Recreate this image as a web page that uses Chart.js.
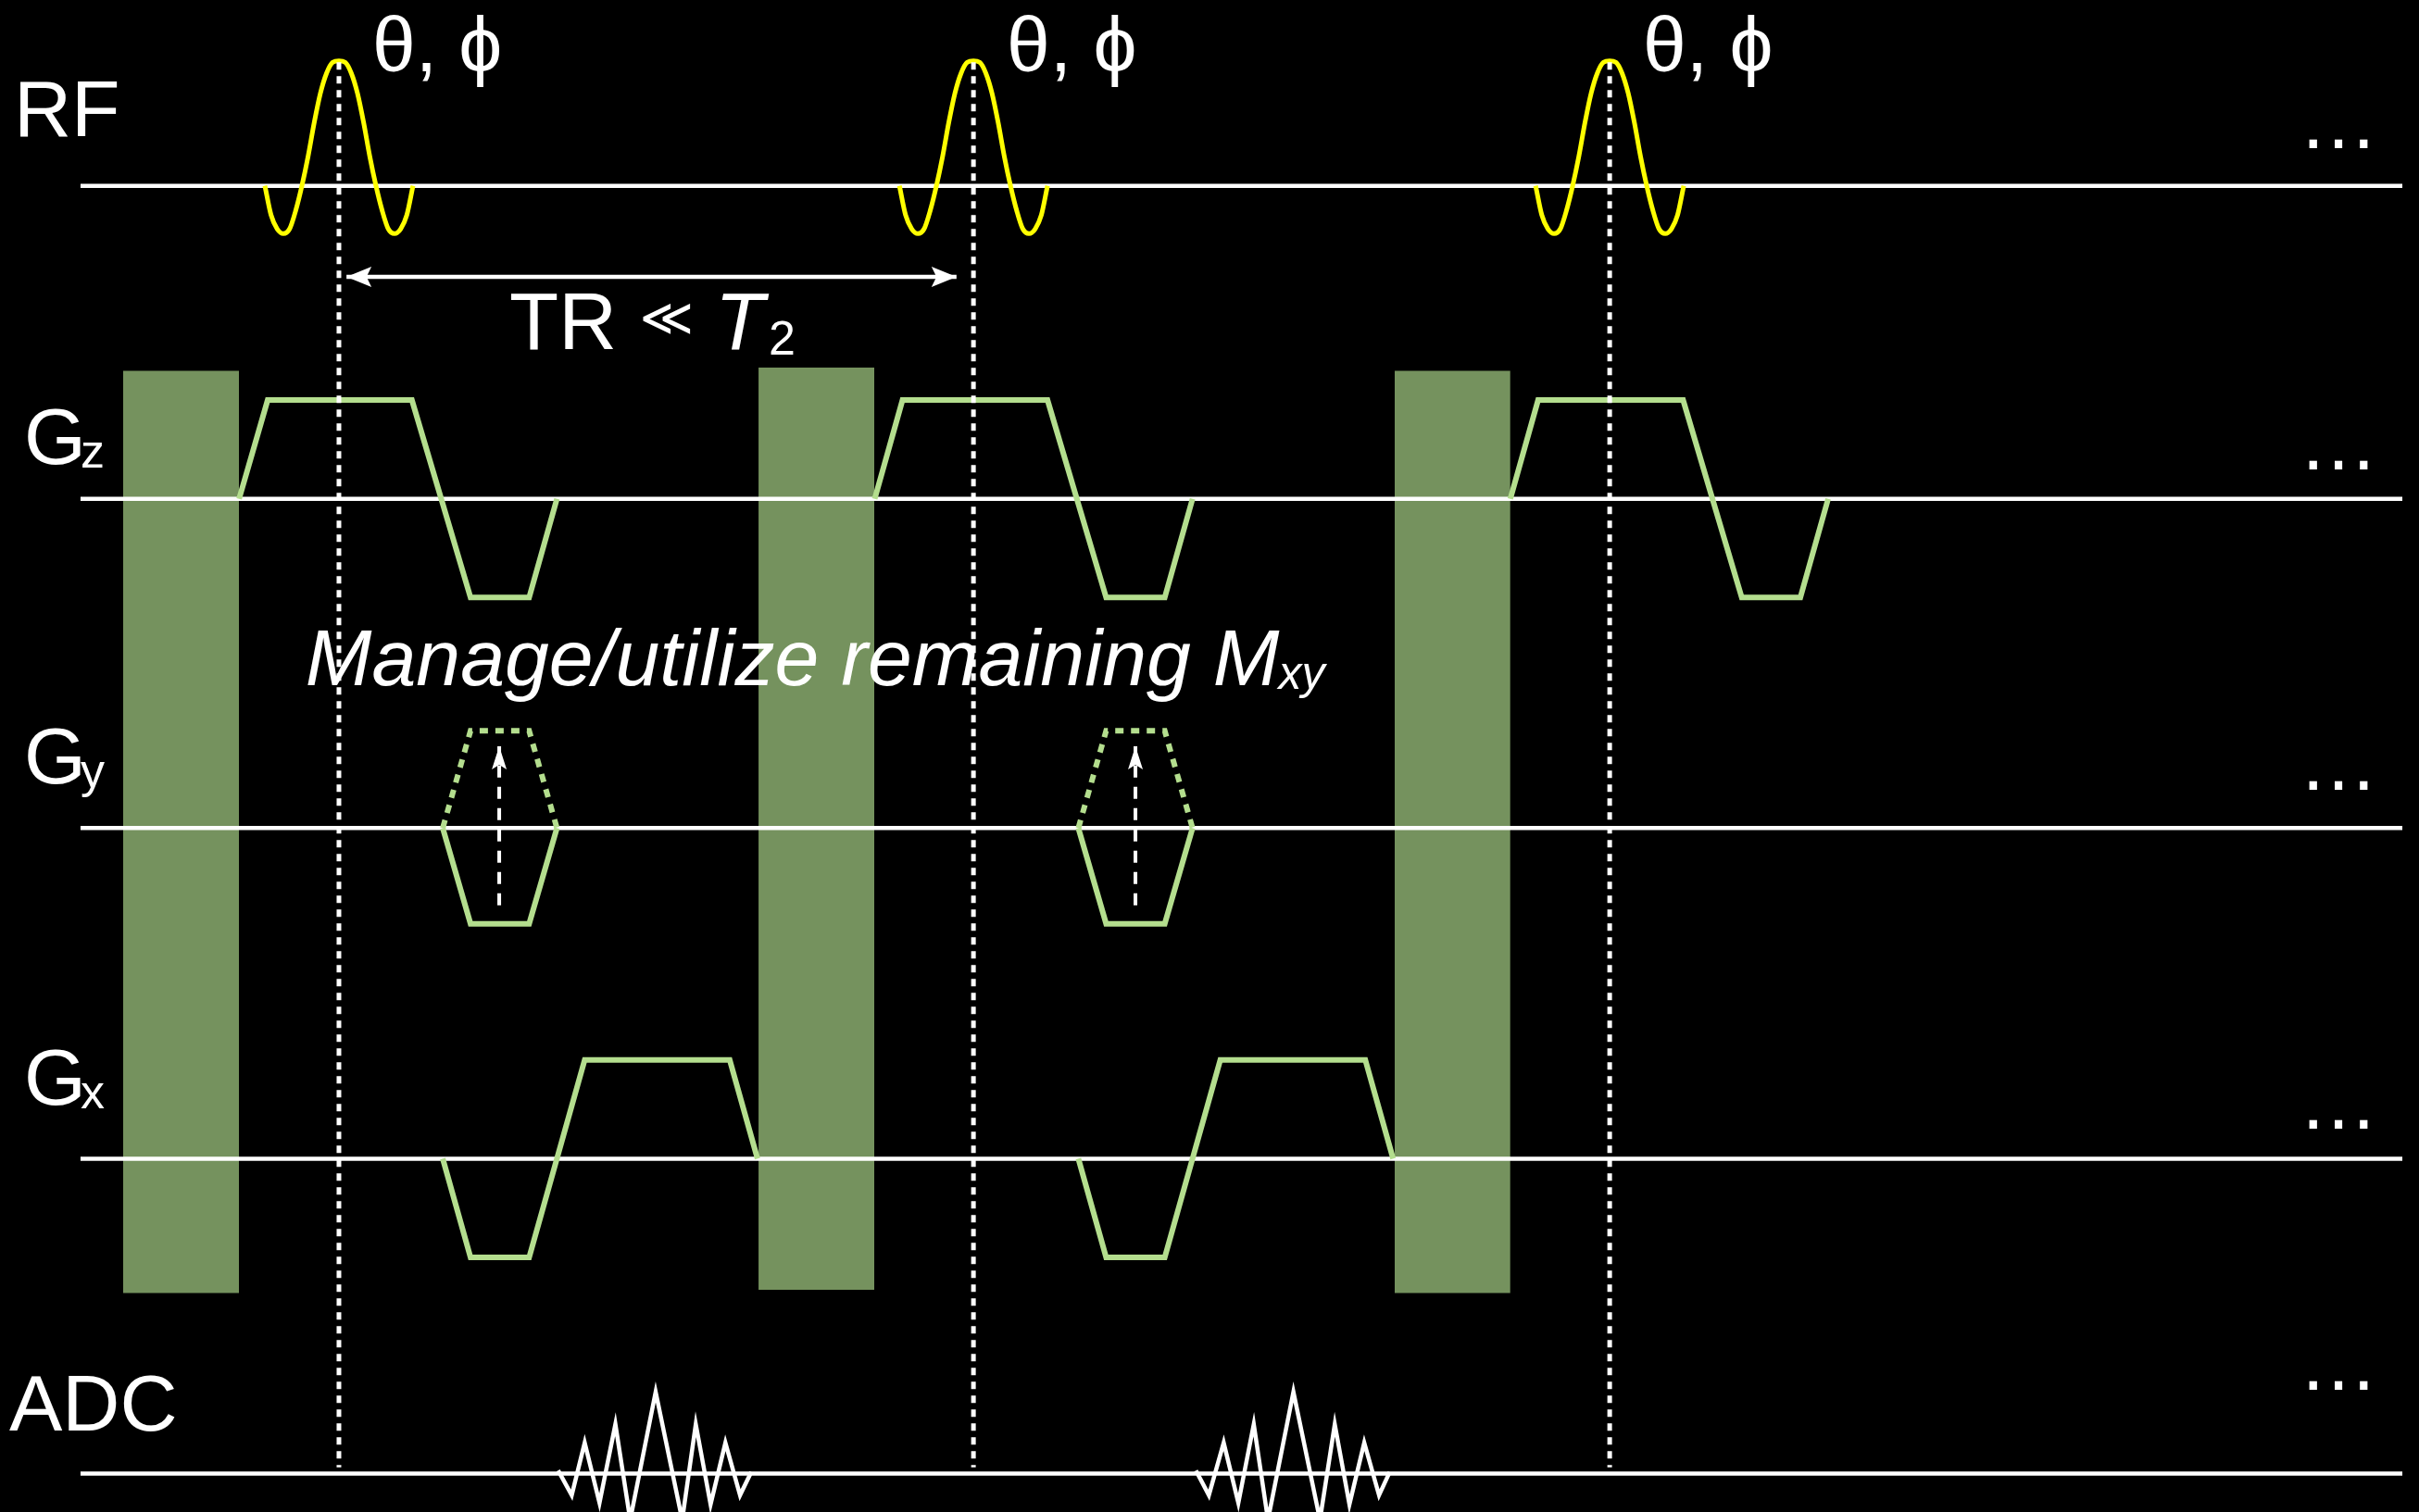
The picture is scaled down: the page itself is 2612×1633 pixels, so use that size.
<!DOCTYPE html>
<html><head><meta charset="utf-8">
<script src="https://cdn.jsdelivr.net/npm/chart.js@4.4.0/dist/chart.umd.min.js"></script>
<style>html,body{margin:0;padding:0;background:#000;} #wrap{width:2612px;height:1633px;position:relative;} canvas{display:block;}</style>
</head><body><div id="wrap"><canvas id="c"></canvas></div>
<script>
// ================= DATA (time in arbitrary units; amplitudes positive = up) =================
const channelNames = ['RF', 'Gz', 'Gy', 'Gx', 'ADC'];
const channelMain  = ['RF', 'G', 'G', 'G', 'ADC'];
const channelSub   = ['', 'z', 'y', 'x', ''];

// RF excitation pulses (theta, phi), one per TR
const rfCenters      = [219.7, 631.0, 1043.4];
const rfShapeOffsets = [-48, -44, -40, -36, -32, -28, -24, -20, -16, -12, -8, -4, 0, 4, 8, 12, 16, 20, 24, 28, 32, 36, 40, 44, 48];
const rfShapeAmps    = [0, -19, -28, -31, -28, -16, 0, 19, 41, 60, 73, 80, 81, 80, 73, 60, 41, 19, 0, -16, -28, -31, -28, -19, 0];
const rfPulseLabel   = 'θ, ϕ';

// slice-select gradient Gz
const gzTimes = [[155, 173.5, 267, 305, 343, 361], [567, 585, 679, 717, 755, 773], [979, 997, 1091, 1129, 1167, 1185]];
const gzAmps  = [[0, 64, 64, -64, -64, 0], [0, 64, 64, -64, -64, 0], [0, 64, 64, -64, -64, 0]];

// phase-encode gradient Gy (solid = first step, dotted = last step)
const gyTimes   = [[287, 305, 343, 361], [699, 717, 755, 773]];
const gyAmps    = [[0, -62, -62, 0], [0, -62, -62, 0]];
const gyAltAmps = [[0, 63, 63, 0], [0, 63, 63, 0]];
const gyArrowTimes = [323.6, 736.0];
const gyArrowAmps  = [-50, 53];

// readout gradient Gx
const gxTimes = [[287, 305, 343, 379, 473, 491], [699, 717, 755, 791, 885, 903]];
const gxAmps  = [[0, -64, -64, 64, 64, 0], [0, -64, -64, 64, 64, 0]];

// ADC echo signal
const adcTimes = [[361.8, 370.6, 379.0, 388.6, 398.9, 408.5, 425.0, 442.2, 451.0, 460.6, 470.2, 479.7, 487.0],
                  [775.2, 783.6, 793.2, 802.7, 812.7, 821.9, 838.4, 855.6, 865.2, 874.7, 884.3, 893.9, 900.8]];
const adcAmps  = [[2, -14, 20, -19, 32, -30, 53, -30, 32, -20, 20, -14, 1],
                  [2, -14, 20, -19, 32, -30, 53, -30, 32, -20, 20, -14, 1]];

// spoiler / crusher gradients (span Gz..Gx)
const spoilerStart  = [79.8, 491.7, 904.0];
const spoilerEnd    = [154.9, 566.7, 979.0];
const spoilerTopGz  = [83, 85, 83];
const spoilerBotGx  = [-87, -85, -87];

// TR interval arrow
const trArrowTimes = [224.6, 620.0];
const trArrowAmpRF = -59;
const trLabelParts = ['TR', '≪', 'T', '2'];

// annotation
const mxyTextParts = ['Manage/utilize remaining M', 'xy'];
const continuation = '…';

// ================= LAYOUT =================
const T_MIN = 0, T_MAX = 1568, Y_MIN = 0, Y_MAX = 980;
const BASE = {RF: 120.4, Gz: 323.3, Gy: 536.7, Gx: 751.0, ADC: 955.1};
const AXIS_START = 52.2, AXIS_END = 1557.2;
const MARK_TOP_RF = 80, MARK_BOT_ADC = 4;
const Y = (ch, a) => BASE[ch] - a;
const FONT = '"Liberation Sans", Arial, "DejaVu Sans", sans-serif';

const C_WHITE = '#ffffff', C_RF = '#ffff00', C_GRAD = '#b4de8e', C_SPOIL = 'rgb(117,146,94)';

const datasets = [];
function addLine(points, color, width, opts) {
  datasets.push(Object.assign({
    type: 'line', data: points, borderColor: color, borderWidth: width,
    pointRadius: 0, fill: false, tension: 0, borderJoinStyle: 'miter', borderCapStyle: 'butt'
  }, opts || {}));
}

// spoilers (bottom-most)
spoilerStart.forEach((s, i) => {
  addLine([{x: s, y: Y('Gz', spoilerTopGz[i])}, {x: spoilerEnd[i], y: Y('Gz', spoilerTopGz[i])}],
    'rgba(0,0,0,0)', 0, {fill: {value: Y('Gx', spoilerBotGx[i])}, backgroundColor: C_SPOIL, order: 100});
});
// baselines
channelNames.forEach(ch => {
  addLine([{x: AXIS_START, y: Y(ch, 0)}, {x: AXIS_END, y: Y(ch, 0)}], C_WHITE, 4.5, {order: 50});
});
// gradients
gzTimes.forEach((ts, i) => addLine(ts.map((t, k) => ({x: t, y: Y('Gz', gzAmps[i][k])})), C_GRAD, 6, {order: 20}));
gyTimes.forEach((ts, i) => addLine(ts.map((t, k) => ({x: t, y: Y('Gy', gyAmps[i][k])})), C_GRAD, 6, {order: 20}));
gyTimes.forEach((ts, i) => addLine(ts.map((t, k) => ({x: t, y: Y('Gy', gyAltAmps[i][k])})), C_GRAD, 6, {order: 20, borderDash: [9, 8]}));
gxTimes.forEach((ts, i) => addLine(ts.map((t, k) => ({x: t, y: Y('Gx', gxAmps[i][k])})), C_GRAD, 6, {order: 20}));
// RF pulses
rfCenters.forEach(c => addLine(rfShapeOffsets.map((o, k) => ({x: c + o, y: Y('RF', rfShapeAmps[k])})), C_RF, 5,
  {order: 10, cubicInterpolationMode: 'monotone'}));
// ADC
adcTimes.forEach((ts, i) => addLine(ts.map((t, k) => ({x: t, y: Y('ADC', adcAmps[i][k])})), C_WHITE, 4.5, {order: 10}));
// dotted timing markers through RF centres
rfCenters.forEach(c => addLine([{x: c, y: Y('RF', MARK_TOP_RF)}, {x: c, y: Y('ADC', MARK_BOT_ADC)}], C_WHITE, 5,
  {order: 3, borderDash: [8, 7]}));
// Gy arrows (dashed, arrow head at top)
gyArrowTimes.forEach(t => addLine([{x: t, y: Y('Gy', gyArrowAmps[0])}, {x: t, y: Y('Gy', gyArrowAmps[1])}], C_WHITE, 4,
  {order: 2, borderDash: [13, 10], arrow: {end: true, len: 25, wid: 16}}));
// TR arrow
addLine([{x: trArrowTimes[0], y: Y('RF', trArrowAmpRF)}, {x: trArrowTimes[1], y: Y('RF', trArrowAmpRF)}], C_WHITE, 4.5,
  {order: 2, arrow: {start: true, end: true, len: 27, wid: 22}});

// ================= PLUGINS =================
const bgPlugin = {
  id: 'bg',
  beforeDraw(chart) {
    const ctx = chart.ctx; ctx.save(); ctx.fillStyle = '#000'; ctx.fillRect(0, 0, chart.width, chart.height); ctx.restore();
  }
};

const arrowPlugin = {
  id: 'arrows',
  afterDatasetsDraw(chart) {
    const ctx = chart.ctx;
    chart.data.datasets.forEach((ds, i) => {
      if (!ds.arrow) return;
      const pts = chart.getDatasetMeta(i).data;
      const head = (tip, from) => {
        const a = Math.atan2(tip.y - from.y, tip.x - from.x);
        const L = ds.arrow.len, W = ds.arrow.wid / 2;
        ctx.save();
        ctx.translate(tip.x, tip.y); ctx.rotate(a);
        ctx.fillStyle = ds.borderColor;
        ctx.beginPath(); ctx.moveTo(0, 0); ctx.lineTo(-L, -W); ctx.lineTo(-L * 0.8, 0); ctx.lineTo(-L, W); ctx.closePath(); ctx.fill();
        ctx.restore();
      };
      if (ds.arrow.end) head(pts[pts.length - 1], pts[pts.length - 2]);
      if (ds.arrow.start) head(pts[0], pts[1]);
    });
  }
};

const textPlugin = {
  id: 'texts',
  afterDatasetsDraw(chart) {
    const ctx = chart.ctx, xs = chart.scales.x, ys = chart.scales.y;
    const px = v => xs.getPixelForValue(v), py = v => ys.getPixelForValue(v);
    ctx.save();
    ctx.fillStyle = '#ffffff'; ctx.textAlign = 'left'; ctx.textBaseline = 'alphabetic';
    const setF = (size, it) => { ctx.font = (it ? 'italic ' : '') + size + 'px ' + FONT; };
    // channel labels
    const lblX = [9, 15.6, 15.6, 15.6, 6];
    const lblBase = [88.3, 300.8, 508.0, 716.2, 926.9];
    channelNames.forEach((ch, i) => {
      setF(86, false);
      const x0 = px(lblX[i]), y0 = py(lblBase[i]);
      ctx.fillText(channelMain[i], x0, y0);
      if (channelSub[i]) {
        const w = ctx.measureText(channelMain[i]).width;
        setF(52, false);
        ctx.fillText(channelSub[i], x0 + w - 6, y0 + 4);
      }
    });
    // theta, phi labels
    setF(84, false);
    rfCenters.forEach(c => ctx.fillText(rfPulseLabel, px(c + 21.6), py(46.2)));
    // TR << T2
    setF(87, false); ctx.fillText(trLabelParts[0], px(330.2), py(226.3));
    setF(56, false); ctx.fillText(trLabelParts[1], px(414.5), py(217.5));
    setF(87, true);  ctx.fillText(trLabelParts[2], px(463.5), py(226.3));
    setF(52, false); ctx.fillText(trLabelParts[3], px(498.3), py(230.0));
    // Manage/utilize remaining Mxy
    setF(86, true);
    ctx.fillText(mxyTextParts[0], px(198), py(444.2));
    const mw = ctx.measureText(mxyTextParts[0]).width;
    setF(50, true);
    ctx.fillText(mxyTextParts[1], px(198) + mw - 1, py(444.2) + 4);
    // continuation dots
    setF(86, false);
    const dotBase = [96, 304.4, 512, 731.8, 901];
    dotBase.forEach(b => ctx.fillText(continuation, px(1490), py(b)));
    ctx.restore();
  }
};

new Chart(document.getElementById('c'), {
  type: 'line',
  data: {datasets},
  options: {
    responsive: true, maintainAspectRatio: false, animation: false, events: [],
    layout: {padding: 0},
    plugins: {legend: {display: false}, tooltip: {enabled: false}, title: {display: false}},
    elements: {point: {radius: 0}},
    scales: {
      x: {type: 'linear', min: T_MIN, max: T_MAX, display: false},
      y: {type: 'linear', min: Y_MIN, max: Y_MAX, reverse: true, display: false}
    }
  },
  plugins: [bgPlugin, arrowPlugin, textPlugin]
});
</script>
</body></html>
